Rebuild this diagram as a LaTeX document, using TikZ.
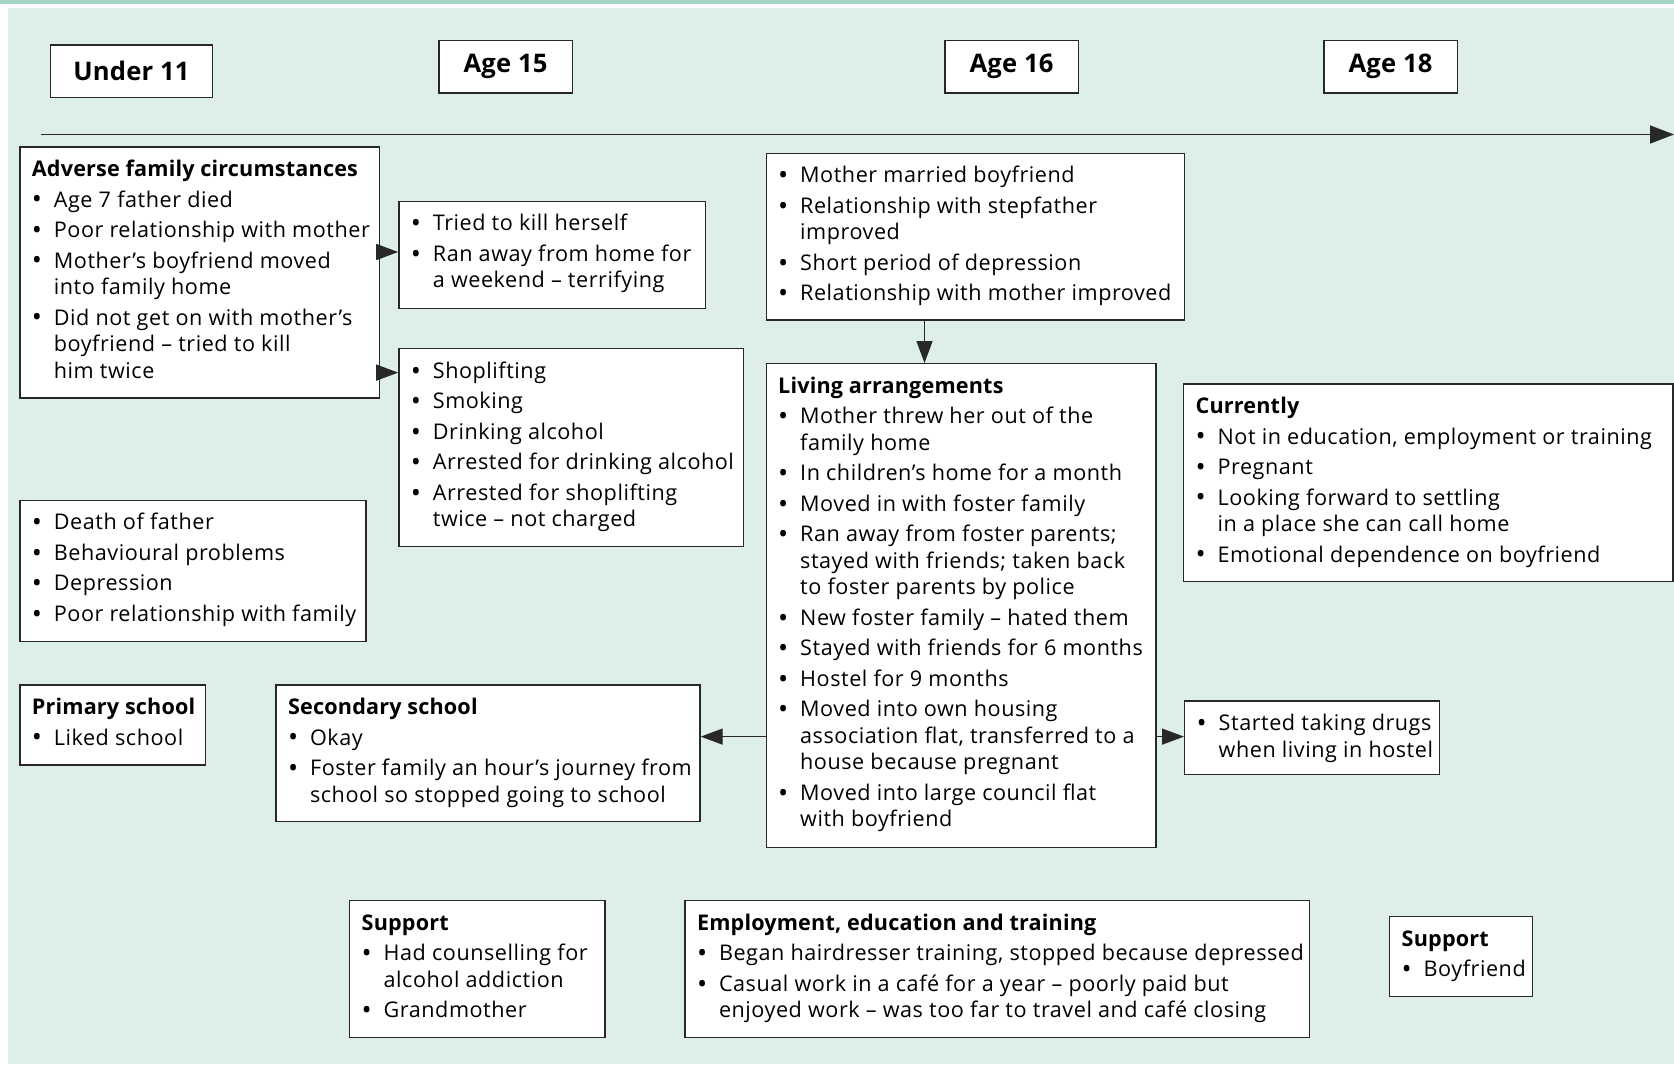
\documentclass[tikz,border=0pt]{standalone}
\usepackage{fontspec}
\setmainfont{Open Sans}[LetterSpace=2.5, BoldFeatures={LetterSpace=0.8}]
\usetikzlibrary{arrows.meta}
\definecolor{mint}{RGB}{222,239,233}
\definecolor{stripc}{RGB}{163,211,198}
\definecolor{ln}{RGB}{40,40,40}
\newcommand\bx[3]{\begin{minipage}[t][\dimexpr #2pt/2-11pt\relax][t]{\dimexpr #1pt/2-12pt\relax}\fontsize{10.8}{13.25}\selectfont\renewcommand\arraystretch{1}#3\end{minipage}}
\newcommand\hd[1]{\multicolumn{2}{@{}l@{}}{\bfseries #1}}
\newcommand\dotb{\raisebox{-0.9pt}{\fontsize{13.5}{13.5}\selectfont\textbullet}}
\newcommand\I{\dotb&}
\newenvironment{bl}{\begin{tabular}[t]{@{}p{11pt}@{}l@{}}}{\end{tabular}}
\tikzset{
  box/.style={draw=ln, line width=0.7pt, fill=white, inner xsep=6pt, inner ysep=5.5pt, anchor=north west},
  agebox/.style={draw=ln, line width=0.7pt, fill=white, inner sep=0pt, minimum height=26.2pt, font=\fontsize{12.8}{15}\selectfont\bfseries},
  arr/.style={draw=ln, line width=0.7pt, -{Triangle[length=11pt,width=8pt]}},
}
\begin{document}
\begin{tikzpicture}[x=0.5pt,y=-0.5pt]
\useasboundingbox (0,0) rectangle (1674,1067);
\fill[mint] (7.5,7.5) rectangle (1674,1064);
\fill[stripc] (0,0) rectangle (1674,3.5);
% age headers
\node[agebox, minimum width=81.2pt] (u11) at (131.4,71) {Under 11};
\node[agebox, minimum width=66.7pt] (a15) at (505.5,66.8) {Age 15};
\node[agebox, minimum width=66.7pt] (a16) at (1011.5,66.8) {Age 16};
\node[agebox, minimum width=66.7pt] (a18) at (1390.5,66.8) {Age 18};
% timeline
\coordinate (tl0) at (40.6,134.5);
\coordinate (tl1) at (1674,134.5);
\draw[draw=ln, line width=0.8pt, -{Triangle[length=12pt,width=9pt]}] (tl0) -- (tl1);
% boxes
\node[box] (adv) at (19.2,146.3) {\bx{359.8}{250.9}{\begin{bl}
\hd{Adverse family circumstances}\\[2pt]
\I Age 7 father died\\[2pt]
\I Poor relationship with mother\\[2pt]
\I Mother’s boyfriend moved\\
& into family home\\[2pt]
\I Did not get on with mother’s\\
& boyfriend – tried to kill\\
& him twice
\end{bl}}};
\node[box] (tried) at (398.2,200.7) {\bx{306.4}{106.8}{\begin{bl}
\I Tried to kill herself\\[2pt]
\I Ran away from home for\\
& a weekend – terrifying
\end{bl}}};
\node[box] (shop) at (398.2,348) {\bx{344.8}{197.5}{\begin{bl}
\I Shoplifting\\[2pt]
\I Smoking\\[2pt]
\I Drinking alcohol\\[2pt]
\I Arrested for drinking alcohol\\[2pt]
\I Arrested for shoplifting\\
& twice – not charged
\end{bl}}};
\node[box] (death) at (19.2,499.6) {\bx{345.9}{141}{\begin{bl}
\I Death of father\\[2pt]
\I Behavioural problems\\[2pt]
\I Depression\\[2pt]
\I Poor relationship with family
\end{bl}}};
\node[box] (prim) at (19.2,684.3) {\bx{185.8}{80.1}{\begin{bl}
\hd{Primary school}\\[2pt]
\I Liked school
\end{bl}}};
\node[box] (sec) at (275.4,684.3) {\bx{423.9}{136.7}{\begin{bl}
\hd{Secondary school}\\[2pt]
\I Okay\\[2pt]
\I Foster family an hour’s journey from\\
& school so stopped going to school
\end{bl}}};
\node[box] (moth) at (765.5,152.7) {\bx{418.5}{166.5}{\begin{bl}
\I Mother married boyfriend\\[2pt]
\I Relationship with stepfather\\
& improved\\[2pt]
\I Short period of depression\\[2pt]
\I Relationship with mother improved
\end{bl}}};
\node[box] (liv) at (765.5,363) {\bx{389.9}{483.6}{\begin{bl}
\hd{Living arrangements}\\[2pt]
\I Mother threw her out of the\\
& family home\\[2pt]
\I In children’s home for a month\\[2pt]
\I Moved in with foster family\\[2pt]
\I Ran away from foster parents;\\
& stayed with friends; taken back\\
& to foster parents by police\\[2pt]
\I New foster family – hated them\\[2pt]
\I Stayed with friends for 6 months\\[2pt]
\I Hostel for 9 months\\[2pt]
\I Moved into own housing\\
& association flat, transferred to a\\
& house because pregnant\\[2pt]
\I Moved into large council flat\\
& with boyfriend
\end{bl}}};
\node[box] (curr) at (1182.9,383.3) {\bx{489.5}{197.5}{\begin{bl}
\hd{Currently}\\[2pt]
\I Not in education, employment or training\\[2pt]
\I Pregnant\\[2pt]
\I Looking forward to settling\\
& in a place she can call home\\[2pt]
\I Emotional dependence on boyfriend
\end{bl}}};
\node[box] (start) at (1184,700.3) {\bx{255}{73.7}{\begin{bl}
\I Started taking drugs\\
& when living in hostel
\end{bl}}};
\node[box] (sup1) at (349,900) {\bx{255.3}{136.6}{\begin{bl}
\hd{Support}\\[2pt]
\I Had counselling for\\
& alcohol addiction\\[2pt]
\I Grandmother
\end{bl}}};
\node[box] (emp) at (684.3,900) {\bx{624.6}{136.6}{\begin{bl}
\hd{Employment, education and training}\\[2pt]
\I Began hairdresser training, stopped because depressed\\[2pt]
\I Casual work in a café for a year – poorly paid but\\
& enjoyed work – was too far to travel and café closing
\end{bl}}};
\node[box] (sup2) at (1389,916) {\bx{143}{80}{\begin{bl}
\hd{Support}\\[2pt]
\I Boyfriend
\end{bl}}};
% connectors
\coordinate (ya) at (0,252);
\coordinate (yb) at (0,372.6);
\coordinate (yc) at (0,736.6);
\coordinate (xm) at (924.5,0);
\draw[arr] (adv.east |- ya) -- (tried.west |- ya);
\draw[arr] (adv.east |- yb) -- (shop.west |- yb);
\draw[arr] (moth.south -| xm) -- (liv.north -| xm);
\draw[arr] (liv.west |- yc) -- (sec.east |- yc);
\draw[arr] (liv.east |- yc) -- (start.west |- yc);
\end{tikzpicture}
\end{document}
